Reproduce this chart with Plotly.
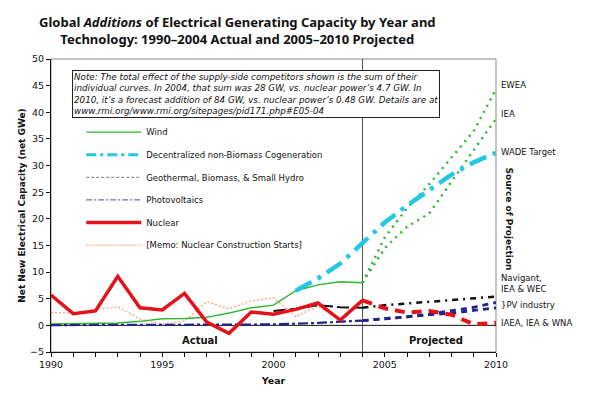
import plotly.graph_objects as go

# ---------------- data ----------------
years_actual = list(range(1990, 2005))
years_proj = list(range(2004, 2011))

wind_actual = [0.25, 0.3, 0.35, 0.45, 0.75, 1.25, 1.3, 1.5, 2.3, 3.3, 3.8, 6.5, 7.6, 8.2, 8.0]
wind_ewea = [8.0, 16.5, 22.0, 26.5, 31.5, 36.5, 44.3]
wind_iea = [8.0, 14.5, 18.5, 21.0, 27.0, 33.0, 38.8]

cogen_years = list(range(2001, 2011))
cogen = [6.5, 8.8, 11.6, 15.5, 19.3, 22.5, 25.5, 28.3, 30.6, 32.4]

geo_years = list(range(2000, 2005))
geo_actual = [2.7, 3.1, 3.8, 3.4, 3.3]
geo_proj = [3.3, 3.8, 4.1, 4.4, 4.7, 5.0, 5.4]

pv_actual = [0.05, 0.05, 0.05, 0.05, 0.05, 0.07, 0.08, 0.1, 0.12, 0.15, 0.2, 0.3, 0.45, 0.7, 0.9]
pv_high = [0.9, 1.2, 1.6, 2.1, 2.7, 3.4, 4.3]
pv_low = [0.9, 1.2, 1.6, 2.0, 2.3, 2.8, 3.3]

nuclear_actual = [5.7, 2.2, 2.7, 9.2, 3.3, 2.9, 6.0, 0.6, -1.5, 2.5, 2.1, 3.0, 4.2, 1.0, 4.7]
nuclear_proj = [4.7, 3.2, 2.4, 2.7, 2.0, 0.2, 0.48]

memo_years = list(range(1990, 2004))
memo_starts = [2.4, 2.3, 3.0, 3.5, 1.2, 0.2, 0.8, 4.4, 3.1, 4.6, 5.2, 1.6, 3.6, 1.0]

source_labels = ["EWEA", "IEA", "WADE Target", "Navigant,<br>IEA & WEC", "}PV industry", "IAEA, IEA & WNA"]
source_y = [45.2, 39.6, 32.6, 7.8, 3.75, 0.4]

legend_names = ["Wind", "Decentralized non-Biomass Cogeneration",
                "Geothermal, Biomass, & Small Hydro", "Photovoltaics", "Nuclear",
                "[Memo: Nuclear Construction Starts]"]

# ---------------- styling ----------------
GREEN = "#2fb52f"
CYAN = "#22c8e5"
BLACK = "#111111"
NAVY = "#23238f"
RED = "#e3121b"
MEMO = "#f4a27c"

FONT = "DejaVu Sans"

fig = go.Figure()

def line(x, y, color, width, dash="solid"):
    fig.add_trace(go.Scatter(x=x, y=y, mode="lines", showlegend=False,
                             line=dict(color=color, width=width, dash=dash),
                             hoverinfo="skip"))

# memo first (underneath)
line(memo_years, memo_starts, MEMO, 1.3, "2px,2px")
line(years_actual, wind_actual, GREEN, 1.5)
line(years_proj, wind_ewea, GREEN, 2.5, "2px,5px")
line(years_proj, wind_iea, GREEN, 2.5, "2px,5px")
line(cogen_years, cogen, CYAN, 4.5, "18px,7px,4px,7px")
line(geo_years, geo_actual, BLACK, 2, "12px,4px")
line(years_proj, geo_proj, BLACK, 2.5, "6px,5px,2px,5px")
line(years_actual, pv_actual, NAVY, 2.2, "10px,3px,3px,3px")
line(years_proj, pv_high, NAVY, 2.8, "6px,5px")
line(years_proj, pv_low, NAVY, 2.8, "6px,5px")
line(years_actual, nuclear_actual, RED, 3.5)
line(years_proj, nuclear_proj, RED, 4, "10px,7px")

# legend-only entries
leg_styles = [
    dict(color=GREEN, width=1.2, dash="solid"),
    dict(color=CYAN, width=3, dash="10px,4px,3px,4px"),
    dict(color="#777777", width=1, dash="3px,2px"),
    dict(color="#4a4aa8", width=1, dash="6px,2px,2px,2px"),
    dict(color=RED, width=3.5, dash="solid"),
    dict(color=MEMO, width=1, dash="2px,1px"),
]
for i, (nm, st) in enumerate(zip(legend_names, leg_styles)):
    fig.add_trace(go.Scatter(x=[None], y=[None], mode="lines", name=nm,
                             line=st, legendgroup=f"g{i}", showlegend=True))

# vertical divider at 2004 and zero line
fig.add_shape(type="line", xref="x", yref="y", x0=2004, x1=2004, y0=-5, y1=50,
              line=dict(color="#555555", width=1), layer="below")
fig.add_shape(type="line", xref="x", yref="y", x0=1990, x1=2010, y0=0, y1=0,
              line=dict(color=BLACK, width=1), layer="below")
# frame
fig.add_shape(type="rect", xref="paper", yref="paper", x0=0, x1=1, y0=0, y1=1,
              line=dict(color="#888888", width=1), layer="below")

# title
fig.add_annotation(xref="paper", yref="paper", x=0.42, y=1.098, xanchor="center", yanchor="middle",
                   showarrow=False, align="center",
                   text="<b>Global <i>Additions</i> of Electrical Generating Capacity by Year and<br>"
                        "Technology: 1990\u20132004 Actual and 2005\u20132010 Projected</b>",
                   font=dict(family="Noto Sans", size=13, color="#111111"))

# note box
note = ("Note: The total effect of the supply-side competitors shown is the sum of their<br>"
        "individual curves. In 2004, that sum was 28 GW, vs. nuclear power\u2019s 4.7 GW. In<br>"
        "2010, it\u2019s a forecast addition of 84 GW, vs. nuclear power\u2019s 0.48 GW. Details are at<br>"
        "www.rmi.org/www.rmi.org/sitepages/pid171.php#E05-04")
fig.add_annotation(xref="paper", yref="paper", x=0.047, y=0.961, xanchor="left", yanchor="top",
                   showarrow=False, align="left", text="<i>" + note + "</i>",
                   font=dict(family=FONT, size=8.75, color="#111111"),
                   bgcolor="white", bordercolor="#222222", borderwidth=1, borderpad=1)

# source labels
for t, yv in zip(source_labels, source_y):
    fig.add_annotation(xref="x", yref="y", x=2010, y=yv, xanchor="left", yanchor="middle",
                       xshift=3, showarrow=False, align="left", text=t,
                       font=dict(family=FONT, size=8.5, color="#111111"))

fig.add_annotation(xref="paper", yref="y", x=1.03, y=20, xanchor="center", yanchor="middle",
                   showarrow=False, textangle=90, text="<b>Source of Projection</b>",
                   font=dict(family=FONT, size=9, color="#111111"))

fig.add_annotation(xref="x", yref="y", x=1996.7, y=-2.8, showarrow=False, text="<b>Actual</b>",
                   font=dict(family=FONT, size=10, color="#111111"))
fig.add_annotation(xref="x", yref="y", x=2007.3, y=-2.8, showarrow=False, text="<b>Projected</b>",
                   font=dict(family=FONT, size=10, color="#111111"))

fig.update_layout(
    width=589, height=394,
    margin=dict(l=51, r=93, t=59, b=42),
    paper_bgcolor="white", plot_bgcolor="white",
    font=dict(family=FONT, size=9, color="#111111"),
    showlegend=True,
    legend=dict(x=0.068, y=0.8, xanchor="left", yanchor="top", bgcolor="rgba(0,0,0,0)",
                font=dict(family=FONT, size=8.5), itemwidth=55, tracegroupgap=3.6,
                itemclick=False),
    xaxis=dict(range=[1990, 2010], dtick=5, tick0=1990, showgrid=False, zeroline=False,
               showline=True, linecolor=BLACK, linewidth=1, ticks="outside", ticklen=4,
               tickcolor=BLACK, tickfont=dict(size=9.5), automargin=False,
               minor=dict(dtick=1, ticks="outside", ticklen=4, tickcolor=BLACK),
               title=dict(text="<b>Year</b>", font=dict(size=9.5), standoff=7)),
    yaxis=dict(range=[-5, 50], dtick=5, showgrid=False, zeroline=False,
               showline=True, linecolor=BLACK, linewidth=1, ticks="outside", ticklen=4,
               tickcolor=BLACK, tickfont=dict(size=9.5), automargin=False,
               title=dict(text="<b>Net New Electrical Capacity (net GWe)</b>", font=dict(size=9), standoff=2)),
)

fig.write_html("out.html", config={"displayModeBar": False},
               post_script="document.body.style.margin='0';document.body.style.overflow='hidden';")
